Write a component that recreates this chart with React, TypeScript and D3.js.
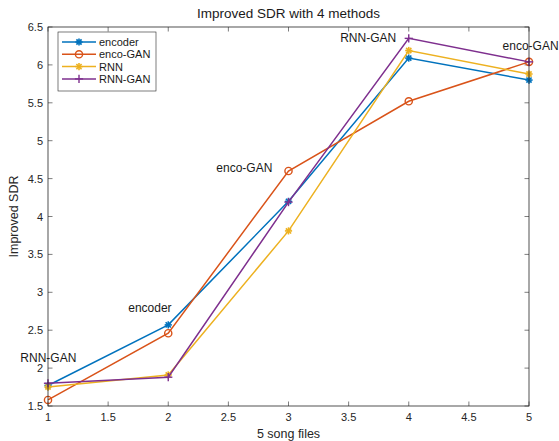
import React from "react";
import * as d3 from "d3";

const xs = [1, 2, 3, 4, 5];
const encoder = [1.77, 2.57, 4.2, 6.09, 5.8];
const encoGAN = [1.58, 2.46, 4.6, 5.52, 6.04];
const rnn = [1.75, 1.91, 3.81, 6.19, 5.88];
const rnnGAN = [1.8, 1.88, 4.19, 6.35, 6.04];
const xTicks = [1, 1.5, 2, 2.5, 3, 3.5, 4, 4.5, 5];
const yTicks = [1.5, 2, 2.5, 3, 3.5, 4, 4.5, 5, 5.5, 6, 6.5];
const seriesNames = ["encoder", "enco-GAN", "RNN", "RNN-GAN"];
const annotations = [
  { label: "RNN-GAN", x: 0.77, y: 2.13 },
  { label: "encoder", x: 1.667, y: 2.79 },
  { label: "enco-GAN", x: 2.4, y: 4.64 },
  { label: "RNN-GAN", x: 3.43, y: 6.36 },
  { label: "enco-GAN", x: 4.78, y: 6.25 },
];

const colors = ["#0072BD", "#D95319", "#EDB120", "#7E2F8E"];
const markers = ["asterisk", "circle", "asterisk", "plus"];
const FONT = "'Liberation Sans', Arial, Helvetica, sans-serif";

function Marker({ type, cx, cy, color }: { type: string; cx: number; cy: number; color: string }) {
  const r = 3.6;
  if (type === "circle") {
    return <circle cx={cx} cy={cy} r={r} fill="none" stroke={color} strokeWidth={1.4} />;
  }
  if (type === "plus") {
    return (
      <g stroke={color} strokeWidth={1.4}>
        <line x1={cx - r - 0.5} y1={cy} x2={cx + r + 0.5} y2={cy} />
        <line x1={cx} y1={cy - r - 0.5} x2={cx} y2={cy + r + 0.5} />
      </g>
    );
  }
  const d = r * 0.72;
  return (
    <g stroke={color} strokeWidth={1.6}>
      <line x1={cx - r} y1={cy} x2={cx + r} y2={cy} />
      <line x1={cx} y1={cy - r} x2={cx} y2={cy + r} />
      <line x1={cx - d} y1={cy - d} x2={cx + d} y2={cy + d} />
      <line x1={cx - d} y1={cy + d} x2={cx + d} y2={cy - d} />
    </g>
  );
}

export default function App() {
  const W = 559, H = 441;
  const L = 48, R = 529, T = 27, B = 406;
  const x = d3.scaleLinear().domain([1, 5]).range([L, R]);
  const y = d3.scaleLinear().domain([1.5, 6.5]).range([B, T]);
  const all = [encoder, encoGAN, rnn, rnnGAN];
  const line = d3
    .line<number>()
    .x((_, i) => x(xs[i]))
    .y((v) => y(v));
  const tl = 4.5;

  return (
    <svg width={W} height={H} style={{ position: "absolute", left: 0, top: 0, background: "#fff" }} fontFamily={FONT}>
      <rect x={0} y={0} width={W} height={H} fill="#fff" />
      {/* ticks */}
      <g stroke="#262626" strokeWidth={0.6}>
        {xTicks.map((t) => (
          <g key={"xt" + t}>
            <line x1={x(t)} y1={B} x2={x(t)} y2={B - tl} />
            <line x1={x(t)} y1={T} x2={x(t)} y2={T + tl} />
          </g>
        ))}
        {yTicks.map((t) => (
          <g key={"yt" + t}>
            <line x1={L} y1={y(t)} x2={L + tl} y2={y(t)} />
            <line x1={R} y1={y(t)} x2={R - tl} y2={y(t)} />
          </g>
        ))}
      </g>
      {/* lines */}
      {all.map((s, k) => (
        <g key={"s" + k}>
          <path d={line(s) || ""} fill="none" stroke={colors[k]} strokeWidth={1.5} />
          {s.map((v, i) => (
            <Marker key={i} type={markers[k]} cx={x(xs[i])} cy={y(v)} color={colors[k]} />
          ))}
        </g>
      ))}
      <rect x={L} y={T} width={R - L} height={B - T} fill="none" stroke="#262626" strokeWidth={0.8} />
      {/* tick labels */}
      <g fontSize={11} fill="#262626">
        {xTicks.map((t) => (
          <text key={"xl" + t} x={x(t)} y={B + 15} textAnchor="middle">
            {t}
          </text>
        ))}
        {yTicks.map((t) => (
          <text key={"yl" + t} x={L - 5} y={y(t) + 4} textAnchor="end">
            {t}
          </text>
        ))}
      </g>
      {/* annotations */}
      <g fontSize={12} fill="#1a1a1a">
        {annotations.map((a, i) => (
          <text key={"a" + i} x={x(a.x)} y={y(a.y) + 4}>
            {a.label}
          </text>
        ))}
      </g>
      {/* title and labels */}
      <text x={(L + R) / 2} y={18} textAnchor="middle" fontSize={13.5} fill="#1a1a1a">
        Improved SDR with 4 methods
      </text>
      <text x={(L + R) / 2} y={438} textAnchor="middle" fontSize={12.5} fill="#262626">
        5 song files
      </text>
      <text
        transform={`translate(18, ${(T + B) / 2}) rotate(-90)`}
        textAnchor="middle"
        fontSize={12.5}
        fill="#262626"
      >
        Improved SDR
      </text>
      {/* legend */}
      <g>
        <rect x={58} y={32} width={98} height={59} fill="#fff" stroke="#262626" strokeWidth={0.6} />
        {seriesNames.map((n, k) => {
          const ly = 42 + k * 12.3;
          return (
            <g key={"lg" + k}>
              <line x1={62} y1={ly} x2={96} y2={ly} stroke={colors[k]} strokeWidth={1.5} />
              <Marker type={markers[k]} cx={79} cy={ly} color={colors[k]} />
              <text x={99} y={ly + 4} fontSize={11} fill="#1a1a1a">
                {n}
              </text>
            </g>
          );
        })}
      </g>
    </svg>
  );
}
